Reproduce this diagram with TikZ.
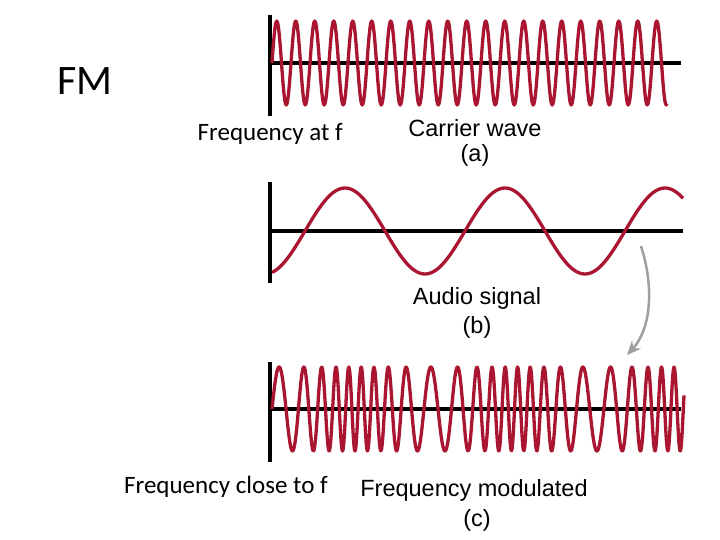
\documentclass[tikz,border=0pt]{standalone}
\usepackage{fontspec}
\setmainfont{Carlito}
\newfontfamily\arialf{Liberation Sans}
\usetikzlibrary{arrows.meta}
\definecolor{wavered}{RGB}{170,22,50}
\tikzset{wave/.style={wavered,line width=3.3pt,line join=round},
axis/.style={black,line width=3.3pt},
lab/.style={font=\arialf\fontsize{23.5}{24}\selectfont,inner sep=0pt},
sl/.style={font=\fontsize{25}{26}\selectfont,inner sep=0pt}}
\begin{document}
\begin{tikzpicture}[x=1pt,y=-1pt]
\useasboundingbox (0,0) rectangle (720,540);
% carrier
\draw[axis] (270,15) coordinate (a1) -- (270,116) coordinate (a2);
\draw[axis] (270,63) coordinate (a3) -- (681,63) coordinate (a4);
\draw[wave] plot[domain=272:667,samples=500,smooth] (\x,{63-42*sin((\x-272)/19*360)});
% audio
\draw[axis] (270,182) coordinate (b1) -- (270,283) coordinate (b2);
\draw[axis] (270,231) coordinate (b3) -- (683,231) coordinate (b4);
\draw[wave] plot[domain=272:683,samples=200,smooth] (\x,{231-43*sin((\x-305)/160*360)});
% modulated
\draw[axis] (270,362) coordinate (c1) -- (270,462) coordinate (c2);
\draw[axis] (270,409) coordinate (c3) -- (681,409) coordinate (c4);
\draw[wave] plot[domain=272:684,samples=900,smooth] (\x,{409-42*sin(20.9*(\x-272)-211*(cos((\x-315)/160*360)+0.117))});
% arrow
\coordinate (s) at (641,246);
\coordinate (e) at (627,355);
\draw[gray!75,line width=2.5pt,-{Stealth[length=14pt,width=12pt]}] (s) .. controls (655,290) and (650,330) .. (e);
% texts
\node[font=\fontsize{42}{42}\selectfont,inner sep=0pt] (fm) at (85,81) {FM};
\node[sl,anchor=east] (fa) at (343,134) {Frequency at f};
\node[sl,anchor=east] (fc) at (328,487) {Frequency close to f};
\node[lab] (cw) at (475,128) {Carrier wave};
\node[lab] (la) at (475,155) {(a)};
\node[lab] (as) at (477,298) {Audio signal};
\node[lab] (lb) at (477,327) {(b)};
\node[lab] (fmod) at (474,490) {Frequency modulated};
\node[lab] (lc) at (477,520) {(c)};
\end{tikzpicture}
\end{document}
